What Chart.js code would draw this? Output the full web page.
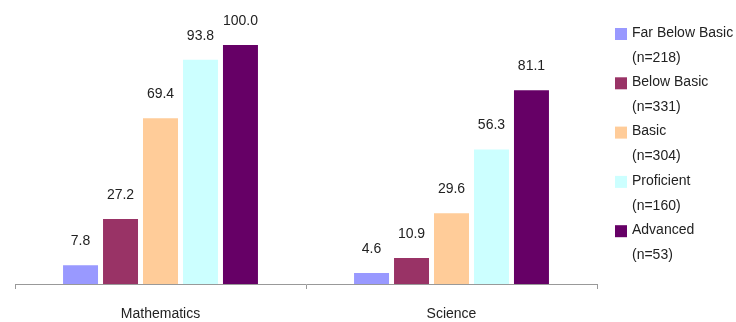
<!DOCTYPE html>
<html lang="en">
  <head>
    <title>Proficiency</title>
    <script src="https://cdn.jsdelivr.net/npm/chart.js@4.4.1/dist/chart.umd.min.js"></script>
    <style>
      body{
        margin: 0;
        background-color: #ffffff;
      }
      #wrap{
        position: relative;
        width: 736px;
        height: 322px;
      }
    </style>
  </head>
  <body>
    <div id="wrap">
      <canvas id="levelChart"></canvas>
    </div>
    <script>
      const subjects = ["Mathematics", "Science"];
      const levelNames = ["Far Below Basic", "Below Basic", "Basic", "Proficient", "Advanced"];
      const levelCounts = ["(n=218)", "(n=331)", "(n=304)", "(n=160)", "(n=53)"];
      const levelColors = ["#9999FF", "#993366", "#FFCC99", "#CCFFFF", "#660066"];
      const farBelowBasic = [7.8, 4.6];
      const belowBasic = [27.2, 10.9];
      const basic = [69.4, 29.6];
      const proficient = [93.8, 56.3];
      const advanced = [100.0, 81.1];

      const seriesValues = [farBelowBasic, belowBasic, basic, proficient, advanced];
      const font = "14px 'Liberation Sans', Arial, sans-serif";

      // value labels above every bar
      const barLabels = {
        id: "barLabels",
        afterDatasetsDraw(chart) {
          const ctx = chart.ctx;
          ctx.save();
          ctx.font = font;
          ctx.fillStyle = "#222222";
          ctx.textAlign = "center";
          ctx.textBaseline = "middle";
          chart.data.datasets.forEach((ds, i) => {
            chart.getDatasetMeta(i).data.forEach((bar, j) => {
              ctx.fillText(ds.data[j].toFixed(1), bar.x, bar.y - 24);
            });
          });
          ctx.restore();
        }
      };

      // legend on the right, two lines per entry
      const sideLegend = {
        id: "sideLegend",
        afterDraw(chart) {
          const ctx = chart.ctx;
          ctx.save();
          ctx.font = font;
          ctx.textBaseline = "middle";
          chart.data.datasets.forEach((ds, i) => {
            const top = 28 + i * 49.3;
            ctx.fillStyle = ds.backgroundColor;
            ctx.fillRect(615, top, 12, 12);
            ctx.fillStyle = "#222222";
            ctx.fillText(levelNames[i], 632, top + 5);
            ctx.fillText(levelCounts[i], 632, top + 30);
          });
          ctx.restore();
        }
      };

      let levelCtx = document.getElementById("levelChart").getContext("2d");
      let levelChart = new Chart(levelCtx, {
        type: "bar",
        data: {
          labels: subjects,
          datasets: seriesValues.map((vals, i) => ({
            label: levelNames[i] + " " + levelCounts[i],
            data: vals,
            backgroundColor: levelColors[i],
            borderWidth: 0,
            barPercentage: 0.875,
            categoryPercentage: 0.687
          }))
        },
        options: {
          responsive: true,
          maintainAspectRatio: false,
          animation: false,
          layout: {
            padding: { left: 15, right: 139, top: 45, bottom: 0 }
          },
          plugins: {
            legend: { display: false },
            tooltip: { enabled: false }
          },
          scales: {
            y: {
              display: false,
              min: 0,
              max: 100
            },
            x: {
              afterFit: (scale) => { scale.height = 38; },
              border: { display: true, color: "#999999", width: 1 },
              grid: {
                display: true,
                offset: true,
                drawOnChartArea: false,
                drawTicks: true,
                tickLength: 5,
                color: "#999999"
              },
              ticks: {
                color: "#222222",
                font: { family: "'Liberation Sans', Arial, sans-serif", size: 14 },
                padding: 17
              }
            }
          }
        },
        plugins: [barLabels, sideLegend]
      });
    </script>
  </body>
</html>
